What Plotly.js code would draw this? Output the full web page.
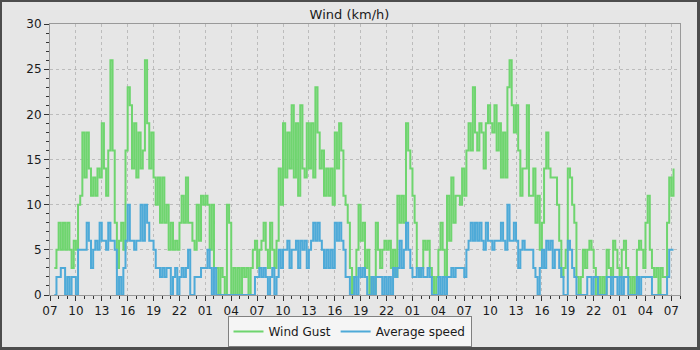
<!DOCTYPE html>
<html>
<head>
<meta charset="utf-8">
<script src="https://cdn.plot.ly/plotly-3.0.1.min.js"></script>
<style>
html,body{margin:0;padding:0;background:#e6e6e6;}
#wrap{width:695px;height:345px;border-style:solid;border-color:#4d4d4d;border-width:2px 3px 3px 2px;}
#chart{width:695px;height:345px;}
</style>
</head>
<body>
<div id="wrap"><div id="chart"></div></div>
<script>
// Sample times: every 15 minutes starting 07:30 on day 1
const startTime = '2024-03-01T07:30:00Z';
const stepMinutes = 15;

// Wind gust (km/h)
const windGust = [
  3,5,8,5,8,5,8,5,3,6,
  5,10,11,18,13,18,14,11,13,11,
  14,13,19,14,11,16,26,16,8,3,
  6,8,5,16,23,21,14,19,13,18,
  14,16,26,19,14,18,13,10,13,8,
  13,8,10,5,8,5,6,
  5,8,11,8,13,8,8,6,5,10,
  6,11,10,11,10,5,10,3,3,0,
  3,2,0,10,8,0,3,0,3,0,
  3,2,3,0,3,5,6,3,5,6,
  8,5,3,8,5,3,6,14,10,19,
  13,18,14,21,13,19,11,21,14,
  13,19,14,19,13,23,18,14,16,11,
  14,11,14,10,18,14,19,16,11,10,
  8,3,0,2,5,10,6,8,3,5,
  0,2,0,8,5,3,5,6,5,6,
  3,5,2,11,8,11,8,19,16,14,
  11,8,3,2,3,6,5,6,
  3,2,0,2,5,8,5,2,11,6,
  13,8,11,11,10,14,11,16,19,16,
  23,18,16,19,18,14,19,21,19,18,
  21,16,19,13,18,13,23,26,21,18,
  21,16,11,14,14,21,11,11,14,8,
  11,5,8,14,18,14,13,13,13,
  10,6,2,3,5,14,13,10,8,2,
  0,2,5,3,5,6,5,3,0,2,
  0,2,0,5,3,2,6,5,3,2,
  5,6,3,2,0,2,0,5,6,5,
  3,8,11,5,3,2,3,0,3,2,
  2,8,13,11,14
];

// Average wind speed (km/h)
const avgSpeed = [
  0,2,2,3,3,0,2,0,2,2,
  0,5,5,5,5,8,6,3,5,6,
  5,8,6,6,5,8,6,6,5,0,
  2,0,3,6,10,6,6,5,6,6,
  10,6,10,8,6,6,5,3,3,2,
  3,2,3,3,0,2,3,
  0,2,3,2,3,5,0,0,2,2,
  2,3,3,3,5,3,0,3,0,0,
  0,0,0,0,0,0,0,0,0,0,
  0,0,0,0,0,0,2,2,3,2,
  3,2,0,2,3,0,2,5,3,5,
  5,6,3,5,5,6,3,6,5,
  6,3,5,6,8,6,8,6,5,3,
  5,3,5,3,8,6,8,6,5,2,
  2,0,0,2,0,3,2,3,2,0,
  0,2,0,2,2,2,0,2,0,2,
  0,3,2,3,6,3,5,8,5,3,
  2,2,3,2,3,2,2,3,
  2,0,0,0,2,0,2,0,2,2,
  3,2,3,3,3,3,2,5,6,8,
  6,8,6,8,6,5,8,6,6,5,
  6,6,6,8,6,5,10,6,6,8,
  6,3,5,6,5,5,5,5,3,2,
  0,3,5,3,6,5,6,3,5,
  5,3,2,0,0,6,5,3,2,0,
  0,0,0,0,2,2,0,2,2,0,
  0,0,0,2,2,0,2,2,0,2,
  0,2,2,0,0,0,0,2,0,2,
  2,2,2,2,0,0,0,0,0,0,
  0,2,5,5,5
];

const seriesNames = ['Wind Gust', 'Average speed'];
const chartTitle = 'Wind (km/h)';

const t0 = Date.parse(startTime);
const times = windGust.map((_, i) =>
  new Date(t0 + i * stepMinutes * 60000).toISOString().slice(0, 19).replace('T', ' '));

const traces = [
  {x: times, y: windGust, name: seriesNames[0], type: 'scatter', mode: 'lines',
   line: {shape: 'hv', color: '#6fd56f', width: 2}},
  {x: times, y: avgSpeed, name: seriesNames[1], type: 'scatter', mode: 'lines',
   line: {shape: 'hv', color: '#4eaad8', width: 2}}
];

const layout = {
  width: 695, height: 345,
  paper_bgcolor: '#e6e6e6', plot_bgcolor: '#e6e6e6',
  font: {family: 'DejaVu Sans, sans-serif', size: 12, color: '#1a1a1a'},
  margin: {l: 48, r: 17, t: 22, b: 52},
  title: {text: chartTitle, x: 0.5, xanchor: 'center', y: 0.965, yanchor: 'middle', yref: 'container',
          font: {family: 'DejaVu Sans, sans-serif', size: 13, color: '#1a1a1a'}},
  showlegend: true,
  legend: {orientation: 'h', x: 0.5, xanchor: 'center', xref: 'container',
           y: 0.0, yanchor: 'bottom', yref: 'container',
           bgcolor: '#f5f5f5', bordercolor: '#808080', borderwidth: 1,
           font: {size: 12, color: '#1a1a1a'}},
  xaxis: {
    type: 'date',
    range: ['2024-03-01 07:00:00', '2024-03-04 08:00:00'],
    tick0: '2024-03-01 07:00:00', dtick: 3 * 3600000, tickformat: '%H',
    ticks: 'outside', ticklen: 5, tickcolor: '#333',
    minor: {dtick: 3600000, ticks: 'outside', ticklen: 3, tickcolor: '#333', showgrid: false},
    showgrid: true, gridcolor: '#bcbcbc', griddash: '3px,3px', gridwidth: 1,
    showline: true, linecolor: '#999', linewidth: 1, mirror: true,
    zeroline: false, fixedrange: true, automargin: false,
    tickfont: {size: 12}
  },
  yaxis: {
    range: [0, 30], tick0: 0, dtick: 5,
    ticks: 'outside', ticklen: 5, tickcolor: '#333',
    minor: {dtick: 1, ticks: 'outside', ticklen: 3, tickcolor: '#333', showgrid: false},
    showgrid: true, gridcolor: '#bcbcbc', griddash: '3px,3px', gridwidth: 1,
    showline: true, linecolor: '#999', linewidth: 1, mirror: true,
    zeroline: false, fixedrange: true, automargin: false,
    tickfont: {size: 12}
  }
};

Plotly.newPlot('chart', traces, layout, {displayModeBar: false, staticPlot: true});
</script>
</body>
</html>
